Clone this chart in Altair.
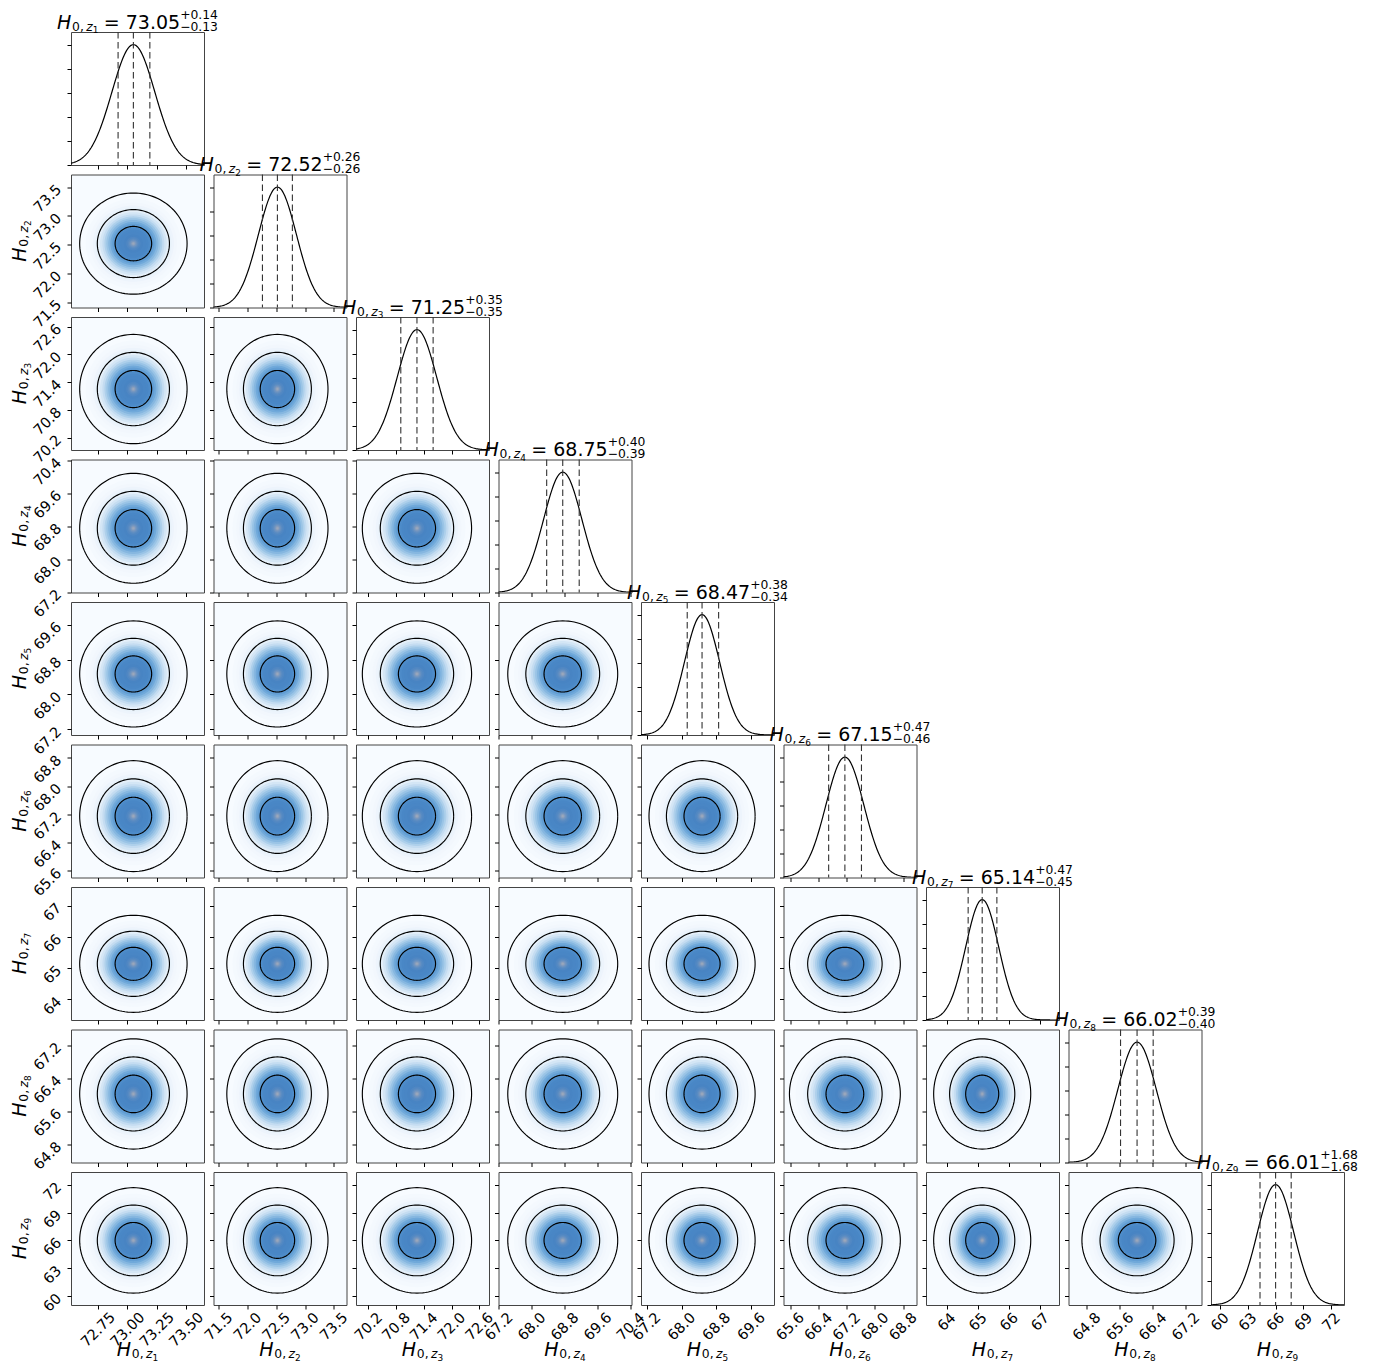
import altair as alt
import numpy as np
import pandas as pd

# ---------------- values ----------------
param_index = [1, 2, 3, 4, 5, 6, 7, 8, 9]
means = [73.05, 72.52, 71.25, 68.75, 68.47, 67.15, 65.14, 66.02, 66.01]
err_plus = [0.14, 0.26, 0.35, 0.40, 0.38, 0.47, 0.47, 0.39, 1.68]
err_minus = [0.13, 0.26, 0.35, 0.39, 0.34, 0.46, 0.45, 0.40, 1.68]
value_text = ["73.05", "72.52", "71.25", "68.75", "68.47", "67.15", "65.14", "66.02", "66.01"]
plus_text = ["+0.14", "+0.26", "+0.35", "+0.40", "+0.38", "+0.47", "+0.47", "+0.39", "+1.68"]
minus_text = ["\u22120.13", "\u22120.26", "\u22120.35", "\u22120.39", "\u22120.34",
              "\u22120.46", "\u22120.45", "\u22120.40", "\u22121.68"]
axis_lo = [72.52, 71.41, 69.93, 67.19, 67.07, 65.41, 63.34, 64.36, 59.05]
axis_hi = [73.65, 73.72, 72.81, 70.42, 70.12, 69.18, 67.60, 67.58, 73.38]
tick_values = [
    [72.75, 73.00, 73.25, 73.50],
    [71.5, 72.0, 72.5, 73.0, 73.5],
    [70.2, 70.8, 71.4, 72.0, 72.6],
    [67.2, 68.0, 68.8, 69.6, 70.4],
    [67.2, 68.0, 68.8, 69.6],
    [65.6, 66.4, 67.2, 68.0, 68.8],
    [64, 65, 66, 67],
    [64.8, 65.6, 66.4, 67.2],
    [60, 63, 66, 69, 72],
]
tick_format = [".2f", ".1f", ".1f", ".1f", ".1f", ".1f", "d", ".1f", "d"]
tick_sample = ["72.75", "71.5", "70.2", "67.2", "67.2", "65.6", "64", "64.8", "60"]
# width of each smoothed 1-D curve, in units of its 1-sigma error
curve_width = [1.35, 1.27, 1.22, 1.18, 1.12, 1.15, 1.15, 1.18, 1.16]
hist_ticks = [0, 0.2, 0.4, 0.6, 0.8, 1.0]
hist_top = 1.105
# 2-D contour radii (in sigma units)
contour_radii = [1.15, 2.27, 3.38]
# shading of the 2-D density (radius in sigma units -> colour)
shade_stops = [0.0, 0.1, 0.22, 0.38, 0.6, 1.0, 1.2, 1.45, 1.7, 1.95, 2.25, 2.7, 3.3]
shade_colors = ["#aab1be", "#93a3bb", "#6f93c0", "#5389c3", "#4884c3", "#4987c6", "#5292cd",
                "#70a9da", "#9ac4e6", "#c4dcf1", "#e4eff9", "#f1f7fd", "#f7fbff"]
ring_radii = [3.3, 3.0, 2.75, 2.55, 2.4, 2.25, 2.1, 1.95, 1.82, 1.7, 1.58, 1.45, 1.33, 1.2,
              1.08, 0.95, 0.8, 0.6, 0.45, 0.35, 0.27, 0.2, 0.13, 0.07]

N = len(means)
sigma = [(a + b) / 2 for a, b in zip(err_plus, err_minus)]

# ---------------- unit shapes (scaled per panel by Vega transforms) ----------------
th_half = np.linspace(0, np.pi, 61)
rings = pd.DataFrame(
    [{"ring": f"r{k:02d}", "lvl": r, "u": r * np.cos(t), "lo": -r * np.sin(t), "hi": r * np.sin(t)}
     for k, r in enumerate(ring_radii) for t in th_half]
)
th_full = np.linspace(0, 2 * np.pi, 121)
contours = pd.DataFrame(
    [{"c": f"c{k}", "i": i, "u": r * np.cos(t), "v": r * np.sin(t)}
     for k, r in enumerate(contour_radii) for i, t in enumerate(th_full)]
)
curve_t = pd.DataFrame({"t": np.linspace(-7, 7, 281)})
one = pd.DataFrame({"d": [0]})

W = H = 133
FONT = "DejaVu Sans"
TICK_FS = 14.5
shade_scale = alt.Scale(domain=shade_stops, range=shade_colors, interpolate="rgb")

ADV = {"H": 0.752, "z": 0.525, ",": 0.318, ".": 0.318, " ": 0.318, "=": 0.838,
       "+": 0.838, "\u2212": 0.838}


def tw(s, size):
    return sum(ADV.get(ch, 0.636) for ch in s) * size


def label_layers(k, px, py, angle=0, with_value=False, f=19):
    s1, s2 = 0.65 * f, 0.47 * f
    items = []
    pos = 0.0
    items.append(("H", f, "italic", pos, 0)); pos += tw("H", f) + 0.04 * f
    items.append(("0,", s1, "normal", pos, 0.12 * f)); pos += tw("0,", s1) + 0.2 * s1
    items.append(("z", s1, "italic", pos, 0.12 * f)); pos += tw("z", s1)
    items.append((str(param_index[k]), s2, "normal", pos, 0.24 * f)); pos += tw("1", s2)
    if with_value:
        pos += 0.28 * f
        txt = "= " + value_text[k]
        items.append((txt, f, "normal", pos, 0)); pos += tw(txt, f)
        items.append((plus_text[k], s1, "normal", pos, -0.52 * f))
        items.append((minus_text[k], s1, "normal", pos, 0.12 * f))
        pos += max(tw(plus_text[k], s1), tw(minus_text[k], s1))
    shift = -pos / 2
    out = []
    for text, size, style, dx, dy in items:
        out.append(
            alt.Chart(one).mark_text(
                text=text, font=FONT, fontSize=size, fontStyle=style, align="left",
                baseline="alphabetic", dx=dx + shift, dy=dy, angle=angle, color="black"
            ).encode(x=alt.value(px), y=alt.value(py))
        )
    return out


def axis_x(k, labels):
    half = (tw(tick_sample[k], TICK_FS) * 0.95 + 0.73 * TICK_FS) / 2.83
    return alt.Axis(values=tick_values[k], format=tick_format[k], labels=labels, title=None,
                    grid=False, domain=False, ticks=True, tickSize=4, labelAngle=-45,
                    labelAlign="center", labelBaseline="middle", labelPadding=3 + half,
                    labelOverlap=False, labelFlush=False, labelFontSize=TICK_FS, labelFont=FONT)


def axis_y(k, labels):
    return alt.Axis(values=tick_values[k], format=tick_format[k], labels=labels, title=None,
                    grid=False, domain=False, ticks=True, tickSize=4, labelAngle=-45,
                    labelAlign="right", labelBaseline="middle", labelPadding=8,
                    labelOverlap=False, labelFlush=False, labelFontSize=TICK_FS, labelFont=FONT)


def scale_for(k):
    return alt.Scale(domain=[axis_lo[k], axis_hi[k]], nice=False, zero=False)


def panel2d(row, col):
    mx, sx = means[col], sigma[col]
    my, sy = means[row], sigma[row]
    xax = axis_x(col, row == N - 1)
    yax = axis_y(row, col == 0)
    xs, ys = scale_for(col), scale_for(row)
    dens = alt.Chart(rings).transform_calculate(
        xv=f"{mx} + datum.u * {sx}",
        ylo=f"{my} + datum.lo * {sy}",
        yhi=f"{my} + datum.hi * {sy}",
    ).mark_area(clip=True, interpolate="linear").encode(
        x=alt.X("xv:Q", scale=xs, axis=xax),
        y=alt.Y("ylo:Q", scale=ys, axis=yax, stack=None),
        y2="yhi:Q",
        color=alt.Color("lvl:Q", scale=shade_scale, legend=None),
        detail="ring:N",
    )
    cont = alt.Chart(contours).transform_calculate(
        xv=f"{mx} + datum.u * {sx}",
        yv=f"{my} + datum.v * {sy}",
    ).mark_line(clip=True, color="black", strokeWidth=1.15).encode(
        x=alt.X("xv:Q", scale=xs, axis=xax),
        y=alt.Y("yv:Q", scale=ys, axis=yax),
        detail="c:N",
        order="i:Q",
    )
    layers = [dens, cont]
    if col == 0:
        layers += label_layers(row, -45, H / 2, angle=270)
    if row == N - 1:
        layers += label_layers(col, W / 2, H + 51)
    return alt.layer(*layers).properties(width=W, height=H, view=alt.ViewBackground(fill="#f7fbff"))


def panel1d(k):
    m, s = means[k], sigma[k]
    xax = axis_x(k, k == N - 1)
    yax = alt.Axis(values=hist_ticks, labels=False, title=None, grid=False, domain=False,
                   ticks=True, tickSize=4)
    xs = scale_for(k)
    curve = alt.Chart(curve_t).transform_calculate(
        xv=f"{m} + datum.t * {s}",
        yv=f"exp(-0.5 * pow(datum.t / {curve_width[k]}, 2))",
    ).mark_line(clip=True, color="black", strokeWidth=1.2).encode(
        x=alt.X("xv:Q", scale=xs, axis=xax),
        y=alt.Y("yv:Q", scale=alt.Scale(domain=[0, hist_top], nice=False, zero=True), axis=yax),
    )
    q = pd.DataFrame({"q": [m - err_minus[k], m, m + err_plus[k]]})
    rules = alt.Chart(q).mark_rule(strokeDash=[6.5, 3.5], color="#333333", strokeWidth=1.1).encode(
        x=alt.X("q:Q", scale=xs, axis=xax)
    )
    layers = [curve, rules]
    layers += label_layers(k, W / 2, -3.5, with_value=True)
    if k == N - 1:
        layers += label_layers(k, W / 2, H + 51)
    return alt.layer(*layers).properties(width=W, height=H, view=alt.ViewBackground(fill="white"))


def blank():
    return alt.Chart(one).mark_point(opacity=0).encode(
        x=alt.X("d:Q", axis=None), y=alt.Y("d:Q", axis=None)
    ).properties(width=W, height=H, view=alt.ViewBackground(stroke="transparent", fill="transparent"))


cells = []
for r in range(N):
    for c in range(N):
        if c < r:
            cells.append(panel2d(r, c))
        elif c == r:
            cells.append(panel1d(r))
        else:
            cells.append(blank())

chart = alt.concat(*cells, columns=N, spacing=9.5, bounds="flush").properties(
    padding={"left": 2, "top": 0, "right": 5, "bottom": 5}
).configure_view(stroke="#444444", strokeWidth=1).configure_axis(
    tickColor="black", labelColor="black", tickWidth=1, labelFont=FONT
)

chart.save("out.html", embed_options={"renderer": "svg", "actions": False})
